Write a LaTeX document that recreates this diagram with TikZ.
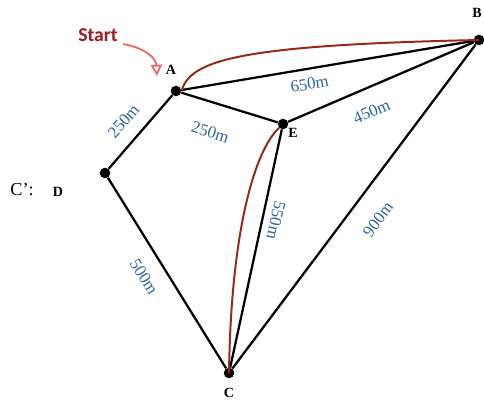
\documentclass[tikz,border=0pt]{standalone}
\usepackage{fontspec}
\setmainfont{Liberation Serif}
\newfontfamily\startfont{Carlito}
\usepackage{xcolor}
\usepackage{tikz}
\usetikzlibrary{calc,arrows.meta,positioning}
\definecolor{cDist}{RGB}{45,100,160}
\definecolor{cPath}{RGB}{150,40,20}
\definecolor{cStart}{RGB}{160,25,30}
\definecolor{cArr}{RGB}{232,105,105}
\tikzset{
  pt/.style={circle,fill=black,inner sep=0pt,minimum size=7.5pt},
  lbl/.style={font=\fontsize{10}{12}\selectfont\bfseries},
  dist/.style={cDist,font=\fontsize{12}{14}\selectfont,sloped,inner sep=1pt},
  edge/.style={line width=1.6pt}
}

\begin{document}
\begin{tikzpicture}[x=0.025cm,y=-0.025cm]
  \useasboundingbox (0,0) rectangle (484,400);
  % vertices
  \node[pt] (A) at (176,91) {};
  \node[pt] (B) at (479,40) {};
  \node[pt] (E) at (283,124) {};
  \node[pt] (D) at (105,173) {};
  \node[pt] (C) at (229,373) {};
  \node[lbl] (lA) at (171,70) {A};
  \node[lbl] (lB) at (477,13) {B};
  \node[lbl] (lE) at (293,133) {E};
  \node[lbl] (lC) at (229,393) {C};
  \node[lbl] (lD) at (58,192) {D};
  \node[font=\fontsize{13}{15}\selectfont] (lCp) at (22,190) {C’:};
  % edges
  \foreach \a/\b in {A/B,A/E,E/B,A/D,D/C,E/C,C/B} \draw[edge] (\a) -- (\b);
  % route
  \draw[cPath,line width=1.4pt] (A.east) .. controls (190,60) and (240,45) .. (B.center);
  \draw[cPath,line width=1.4pt] (E.south west) .. controls (255,150) and (231,230) .. (C.center);
  % distances
  \path (A) -- (D) node[dist,pos=0.53,above=9pt] {250m};
  \path (A) -- (E) node[dist,pos=0.39,below=15.5pt] {250m};
  \path (A) -- (B) node[dist,pos=0.43,below=5.5pt] {650m};
  \path (E) -- (B) node[dist,pos=0.40,below=11.5pt] {450m};
  \path (E) -- (C) node[dist,allow upside down,pos=0.37,above=4.5pt] {550m};
  \path (C) -- (B) node[dist,pos=0.51,below=14pt] {900m};
  \path (D) -- (C) node[dist,pos=0.46,below=10pt] {500m};
  % start
  \node[cStart,font=\startfont\fontsize{14}{16}\selectfont\bfseries] (st) at (98,35) {Start};
  \coordinate (stTip) at (157,76);
  \draw[cArr,line width=1.3pt,-{Triangle[open,length=8pt,width=8pt]}] (123,44) .. controls (145,48) and (156,58) .. (stTip);
\end{tikzpicture}
\end{document}
